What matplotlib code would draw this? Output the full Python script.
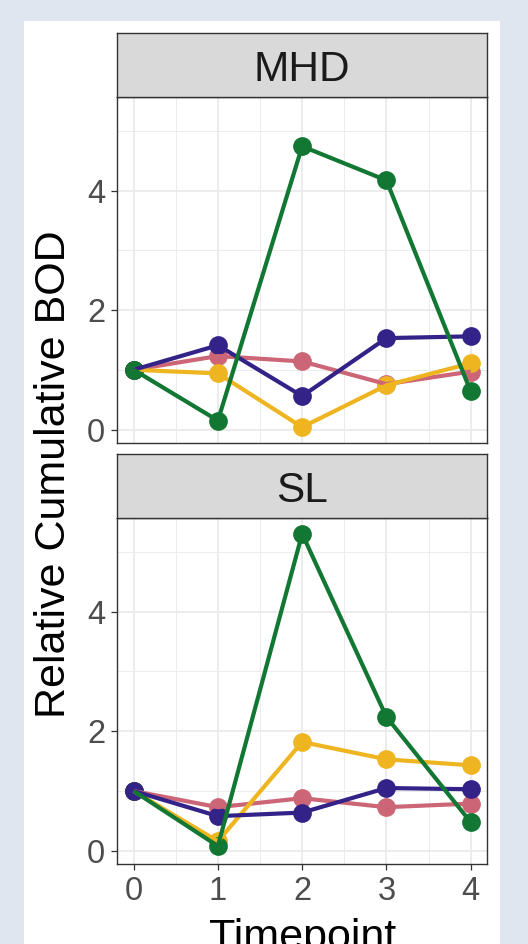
import numpy as np
import matplotlib
matplotlib.use("Agg")
import matplotlib.pyplot as plt
from matplotlib.patches import Rectangle
import matplotlib.ticker as ticker

plt.rcParams["font.family"] = ["Liberation Sans", "DejaVu Sans"]

timepoints = [0, 1, 2, 3, 4]
facets = ["MHD", "SL"]

# relative cumulative BOD per group
mhd_pink = [1.0, 1.23, 1.14, 0.76, 0.97]
mhd_yellow = [1.0, 0.94, 0.04, 0.74, 1.11]
mhd_purple = [1.0, 1.41, 0.56, 1.53, 1.56]
mhd_green = [1.0, 0.15, 4.74, 4.17, 0.64]

sl_pink = [1.0, 0.73, 0.88, 0.73, 0.79]
sl_yellow = [1.0, 0.16, 1.82, 1.53, 1.43]
sl_purple = [1.0, 0.58, 0.64, 1.05, 1.03]
sl_green = [1.0, 0.08, 5.30, 2.24, 0.48]

COLORS = {"pink": "#CC6677", "yellow": "#EFB521", "purple": "#332288", "green": "#117733"}

DATA = {
    "MHD": {"pink": mhd_pink, "yellow": mhd_yellow, "purple": mhd_purple, "green": mhd_green},
    "SL": {"pink": sl_pink, "yellow": sl_yellow, "purple": sl_purple, "green": sl_green},
}
POINT_ORDER = {
    "MHD": ["pink", "yellow", "purple", "green"],
    "SL": ["pink", "yellow", "green", "purple"],
}
LINE_ORDER = ["pink", "yellow", "purple", "green"]

W, H = 528, 944
fig = plt.figure(figsize=(W / 100, H / 100), dpi=100)
fig.patch.set_facecolor("#DFE6EF")
fig.patches.append(Rectangle((23.6 / W, 0), (500 - 23.6) / W, 1 - 21 / H,
                             transform=fig.transFigure, facecolor="white",
                             edgecolor="none", zorder=-10))

left = 116.8 / W
width = (487.5 - 116.8) / W
panels = {"MHD": (97.3, 442.7, 33.2), "SL": (518.3, 864.0, 454.3)}

for name in facets:
    top, bot, strip_top = panels[name]
    ax = fig.add_axes([left, 1 - bot / H, width, (bot - top) / H])
    ax.set_facecolor("white")
    ax.set_xlim(-0.2, 4.2)
    ax.set_ylim(-0.22, 5.56)
    ax.set_xticks(timepoints)
    ax.set_yticks([0, 2, 4])
    ax.xaxis.set_minor_locator(ticker.MultipleLocator(0.5))
    ax.yaxis.set_minor_locator(ticker.FixedLocator([1, 3, 5]))
    ax.grid(True, which="major", color="#EBEBEB", linewidth=1.3, zorder=0)
    ax.grid(True, which="minor", color="#EBEBEB", linewidth=0.65, zorder=0)
    ax.set_axisbelow(True)
    ax.tick_params(which="minor", length=0)
    ax.tick_params(which="major", length=4.3, width=0.9, color="#333333",
                   labelsize=23.5, labelcolor="#4D4D4D", pad=4)
    for sp in ax.spines.values():
        sp.set_color("#333333")
        sp.set_linewidth(1.0)
    if name == "MHD":
        ax.tick_params(axis="x", labelbottom=False, length=0)

    for grp in LINE_ORDER:
        ax.plot(timepoints, DATA[name][grp], color=COLORS[grp], linewidth=3.0,
                solid_capstyle="butt", zorder=4)
    for grp in POINT_ORDER[name]:
        ax.plot(timepoints, DATA[name][grp], linestyle="none", marker="o",
                markersize=13.5, color=COLORS[grp], markeredgewidth=0, zorder=3)

    sax = fig.add_axes([left, 1 - top / H, width, (top - strip_top) / H])
    sax.set_facecolor("#D9D9D9")
    sax.set_xticks([])
    sax.set_yticks([])
    for sp in sax.spines.values():
        sp.set_color("#333333")
        sp.set_linewidth(1.0)
    sax.text(0.5, 0.5, name, ha="center", va="center_baseline", fontsize=30.5,
             color="#1A1A1A", transform=sax.transAxes)

fig.text(54.5 / W, 1 - 474.5 / H, "Relative Cumulative BOD", rotation=90,
         ha="center", va="center", fontsize=31, color="black")
fig.text((116.8 + 487.5) / 2 / W, 1 - 949 / H, "Timepoint", ha="center",
         va="baseline", fontsize=31, color="black")

fig.savefig("out.png", dpi=100, facecolor=fig.get_facecolor())
